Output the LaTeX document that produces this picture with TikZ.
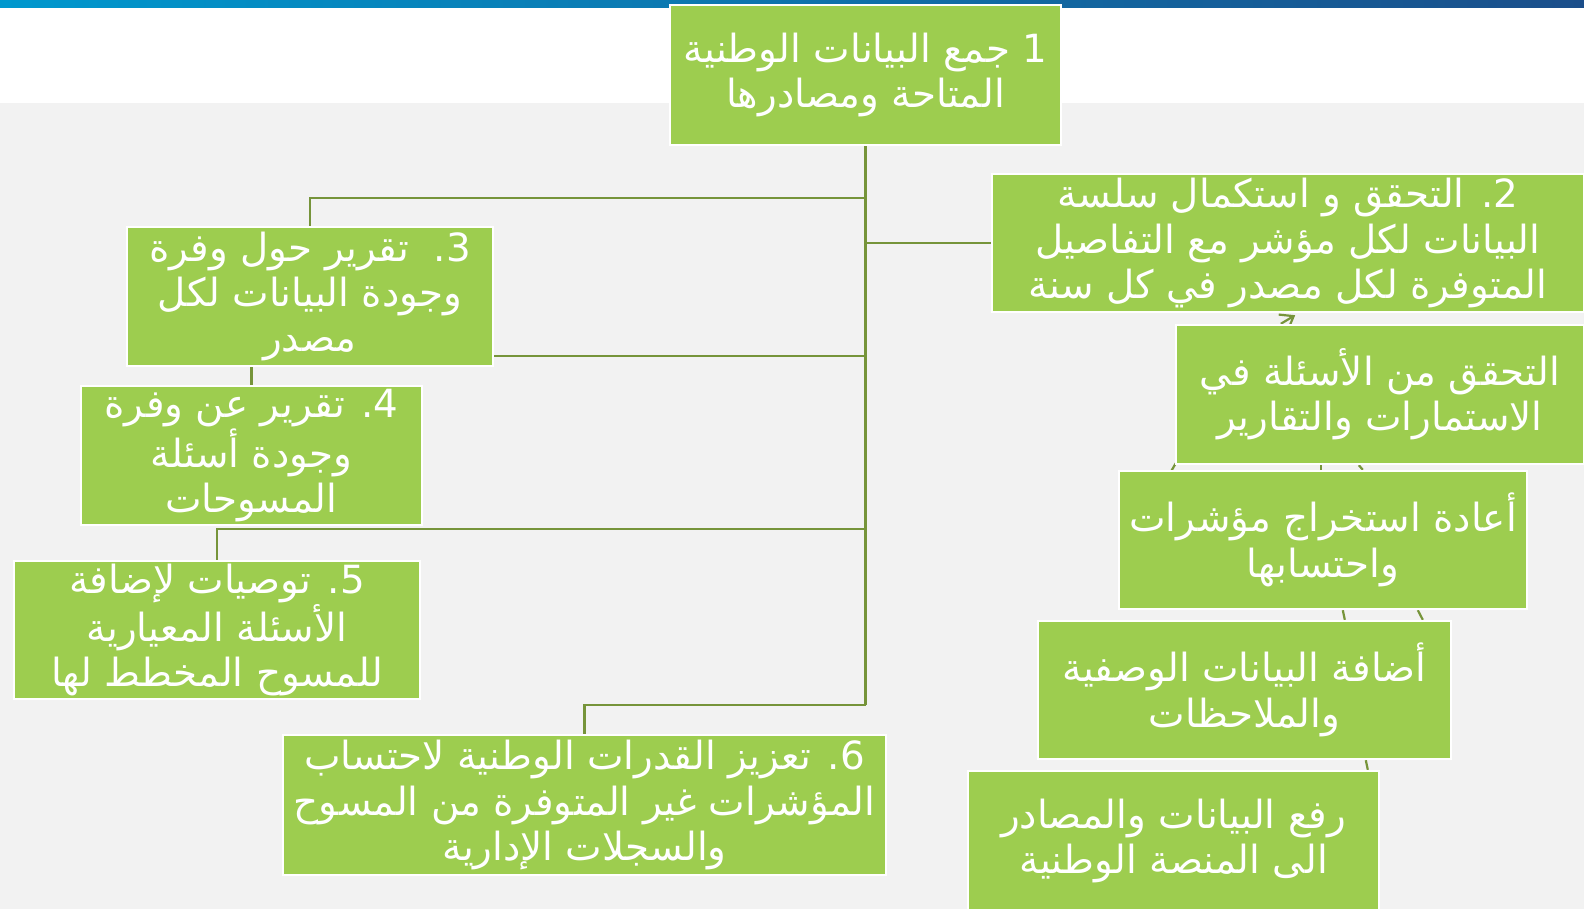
\documentclass[tikz,border=0pt]{standalone}
\usepackage{fontspec}
\usepackage{tikz}
\usetikzlibrary{backgrounds,calc,arrows.meta}
\TeXXeTstate=1
\newfontfamily\arabicfont[Script=Arabic]{DejaVu Sans}
\definecolor{boxgreen}{HTML}{9DCD4F}
\definecolor{linkgreen}{HTML}{76943A}
\definecolor{pagegray}{HTML}{F2F2F2}
\definecolor{barcyan}{HTML}{0098CE}
\definecolor{barblue}{HTML}{1B4E8A}
\newcommand{\rl}[1]{\beginR #1\endR}
\tikzstyle{stepbox}=[rectangle, fill=boxgreen, draw=white, line width=1.2pt, text=white, align=center, inner sep=0pt, font=\arabicfont\fontsize{19.4}{22.7}\selectfont]
\tikzstyle{link}=[draw=linkgreen, line width=1.1pt]

\begin{document}
\begin{tikzpicture}[x=0.5pt, y=-0.5pt]
\begin{pgfonlayer}{background}
\fill[pagegray] (0,0) rectangle (1584,909);
\fill[white] (0,0) rectangle (1584,103);
\shade[left color=barcyan, right color=barblue] (0,0) rectangle (1584,8);
\end{pgfonlayer}
\useasboundingbox (0,0) rectangle (1584,909);

% main column
\node[stepbox, minimum width=195.5pt, minimum height=70pt] (collect) at (865.5,75)
  {\rl{1 جمع البيانات الوطنية}\\ \rl{المتاحة ومصادرها}};
\node[stepbox, minimum width=296pt, minimum height=69pt] (check) at (1288,243)
  {\rl{2. التحقق و استكمال سلسة}\\ \rl{البيانات لكل مؤشر مع التفاصيل}\\ \rl{المتوفرة لكل مصدر في كل سنة}};
\node[stepbox, minimum width=183pt, minimum height=69.5pt] (report) at (310,296.5)
  {\rl{3.\ \ تقرير حول وفرة}\\ \rl{وجودة البيانات لكل}\\ \rl{مصدر}};
\node[stepbox, minimum width=170.5pt, minimum height=69.5pt] (survey) at (251.5,455.5)
  {\rl{4. تقرير عن وفرة}\\ \rl{وجودة أسئلة}\\ \rl{المسوحات}};
\node[stepbox, minimum width=203pt, minimum height=69pt] (advise) at (217,630)
  {\rl{5. توصيات لإضافة}\\ \rl{الأسئلة المعيارية}\\ \rl{للمسوح المخطط لها}};
\node[stepbox, minimum width=301.5pt, minimum height=70pt] (build) at (584.5,805)
  {\rl{6. تعزيز القدرات الوطنية لاحتساب}\\ \rl{المؤشرات غير المتوفرة من المسوح}\\ \rl{والسجلات الإدارية}};

% right cascade
\node[stepbox, minimum width=204pt, minimum height=69.5pt] (forms) at (1380,394.5)
  {\rl{التحقق من الأسئلة في}\\ \rl{الاستمارات والتقارير}};
\node[stepbox, minimum width=204pt, minimum height=69pt] (recalc) at (1323,540)
  {\rl{أعادة استخراج مؤشرات}\\ \rl{واحتسابها}};
\node[stepbox, minimum width=206.5pt, minimum height=69pt] (meta) at (1244.5,690)
  {\rl{أضافة البيانات الوصفية}\\ \rl{والملاحظات}};
\node[stepbox, minimum width=205.5pt, minimum height=70pt] (upload) at (1173.5,841)
  {\rl{رفع البيانات والمصادر}\\ \rl{الى المنصة الوطنية}};

\begin{pgfonlayer}{background}
\coordinate (trunkend) at (collect.south |- 0,705);
\draw[link] (collect.south) -- (trunkend);
\draw[link] (collect.south |- 0,198) -| (report.north);
\draw[link] (collect.south |- check.west) -- (check.west);
\draw[link] (report.east |- 0,356) -- (collect.south |- 0,356);
\draw[link] (survey.north |- report.south) -- (survey.north);
\draw[link] (collect.south |- 0,529) -| (advise.north);
\draw[link] (trunkend) -| (build.north);
% cascade links, mostly hidden under the boxes
\draw[link, -{Straight Barb[length=6pt, width=9pt]}] ([xshift=53pt]forms.north west) -- ([xshift=-145pt, yshift=-1pt]check.south east);
\draw[link] ([xshift=0.5pt,yshift=1pt]forms.south west) -- ([xshift=26.5pt,yshift=-1pt]recalc.north west);
\draw[link] ([xshift=73pt]forms.south west) -- ([xshift=101.5pt]recalc.north west);
\draw[link] ([xshift=92pt]forms.south west) -- ([xshift=122.5pt]recalc.north west);
\draw[link] ([xshift=112.5pt]recalc.south west) -- ([xshift=154pt]meta.north west);
\draw[link] ([xshift=150pt]recalc.south west) -- ([xshift=193pt]meta.north west);
\draw[link] ([xshift=164.5pt]meta.south west) -- ([xshift=200.5pt]upload.north west);
\end{pgfonlayer}
\end{tikzpicture}
\end{document}
